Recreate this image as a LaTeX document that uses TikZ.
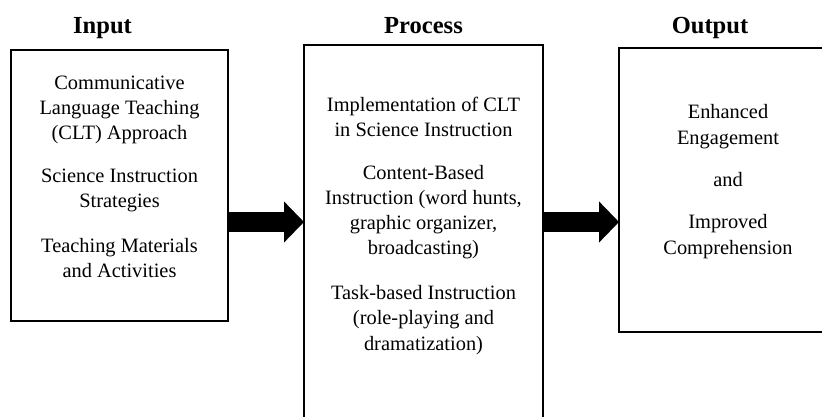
\documentclass[tikz,border=0pt]{standalone}
\usepackage{fontspec}
\setmainfont{Liberation Serif}
\usetikzlibrary{arrows.meta}
\tikzset{
  box/.style={draw=black, line width=1.5pt, rectangle, inner sep=0pt, outer sep=0pt},
  txt/.style={anchor=base, inner sep=0pt, font=\fontsize{15.3}{18}\selectfont},
  ttl/.style={anchor=base, inner sep=0pt, font=\fontsize{18.4}{22}\selectfont\bfseries},
  blockarrow/.style={line width=15pt, -{Triangle[length=15pt 0, width=30pt 0]}}
}
\begin{document}
\begin{tikzpicture}[x=0.75pt,y=-0.75pt]
\useasboundingbox (0,0) rectangle (822,417);
\fill[white] (0,0) rectangle (822,417);
\clip (0,0) rectangle (822,417);
% titles
\node[ttl] (tin) at (102.5,34) {Input};
\node[ttl] (tproc) at (423.5,34) {Process};
\node[ttl] (tout) at (710,34) {Output};
% boxes
\node[box, minimum width=217*0.75pt, minimum height=271*0.75pt] (inbox) at (119.5,185.5) {};
\node[box, minimum width=239*0.75pt, minimum height=385*0.75pt] (procbox) at (423.5,237.5) {};
\node[box, minimum width=211*0.75pt, minimum height=284*0.75pt] (outbox) at (724.5,190) {};
% input texts
\node[txt] (in1) at (119.5,90) {Communicative};
\node[txt] (in2) at (119.5,115) {Language Teaching};
\node[txt] (in3) at (119.5,140) {(CLT) Approach};
\node[txt] (in4) at (119.5,183) {Science Instruction};
\node[txt] (in5) at (119.5,208) {Strategies};
\node[txt] (in6) at (119.5,253) {Teaching Materials};
\node[txt] (in7) at (119.5,278) {and Activities};
% process texts
\node[txt] (pr1) at (423.5,112) {Implementation of CLT};
\node[txt] (pr2) at (423.5,137) {in Science Instruction};
\node[txt] (pr3) at (423.5,180) {Content-Based};
\node[txt] (pr4) at (423.5,205) {Instruction (word hunts,};
\node[txt] (pr5) at (423.5,230) {graphic organizer,};
\node[txt] (pr6) at (423.5,255) {broadcasting)};
\node[txt] (pr7) at (423.5,300) {Task-based Instruction};
\node[txt] (pr8) at (423.5,325) {(role-playing and};
\node[txt] (pr9) at (423.5,350) {dramatization)};
% output texts
\node[txt] (out1) at (728,119) {Enhanced};
\node[txt] (out2) at (728,145) {Engagement};
\node[txt] (out3) at (728,187) {and};
\node[txt] (out4) at (728,229) {Improved};
\node[txt] (out5) at (728,255) {Comprehension};
% arrows
\coordinate (ay) at (0,222);
\draw[blockarrow] (inbox.east |- ay) -- (procbox.west |- ay);
\draw[blockarrow] (procbox.east |- ay) -- (outbox.west |- ay);
\end{tikzpicture}
\end{document}
